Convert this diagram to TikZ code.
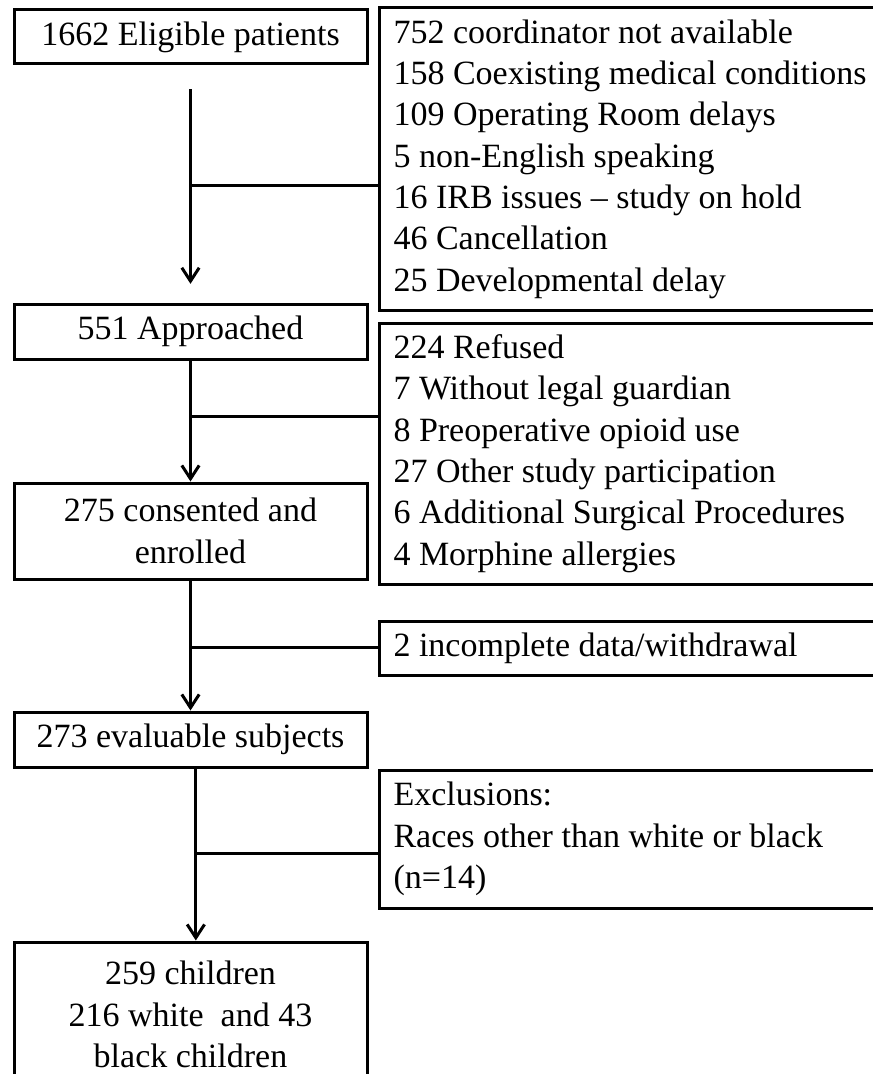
\documentclass[tikz,border=0pt]{standalone}
\usepackage{fontspec}
\setmainfont{Liberation Serif}
\usepackage{tikz}
\usetikzlibrary{arrows.meta}
\tikzstyle{flowChart} = [x = 0.75pt, y = -0.75pt]
\tikzstyle{mainBoxStyle} = [draw, line width = 2.25pt, minimum width = 264.75pt, inner sep = 0pt, align = center, font = \boxFont]
\tikzstyle{sideBoxStyle} = [draw, line width = 2.25pt, minimum width = 399pt, inner xsep = 10.5pt, inner ysep = 0pt, text width = 378pt, align = flush left, anchor = west, font = \boxFont]
\tikzstyle{flowLine} = [line width = 2.25pt]
\tikzstyle{flowArrow} = [flowLine, -{Straight Barb[length = 10pt, width = 13pt]}]
\newcommand{\boxFont}{\fontsize{25.5}{31}\selectfont}
\newcommand{\mainBox}[4]{\node [mainBoxStyle, minimum height = #3] (#1) at #2 {#4};}
\newcommand{\sideBox}[4]{\node [sideBoxStyle, minimum height = #3] (#1) at #2 {#4};}
\newcommand{\sideBranch}[2]{\draw [flowLine] (#1) -- (#2.west |- #1);}

\begin{document}
\begin{tikzpicture}[flowChart]
          \useasboundingbox (0,0) rectangle (873,1074);
          \clip (0,0) rectangle (873,1074);

          \mainBox{eligible}{(190.5,37)}{40.5pt}{1662 Eligible patients}
          \mainBox{approached}{(190.5,331.5)}{41.25pt}{551 Approached}
          \mainBox{consented}{(190.5,531)}{72pt}{275 consented and\\enrolled}
          \mainBox{evaluable}{(190.5,739.5)}{41.25pt}{273 evaluable subjects}
          \mainBox{children}{(190.5,1014.5)}{108.75pt}{259 children\\216 white~ and 43\\black children}

          \sideBox{notEnrolled}{(378,159)}{226.5pt}{752 coordinator not available\\158 Coexisting medical conditions\\109 Operating Room delays\\5 non-English speaking\\16 IRB issues – study on hold\\46 Cancellation\\25 Developmental delay}
          \sideBox{notConsented}{(378,453.5)}{195.75pt}{224 Refused\\7 Without legal guardian\\8 Preoperative opioid use\\27 Other study participation\\6 Additional Surgical Procedures\\4 Morphine allergies}
          \sideBox{withdrawn}{(378,648)}{40.5pt}{2 incomplete data/withdrawal}
          \sideBox{excluded}{(378,839)}{103.5pt}{Exclusions:\\Races other than white or black\\(n=14)}

          \draw [flowArrow, shorten < = 18pt, shorten > = 14pt] (eligible.south) -- (approached.north);
          \draw [flowArrow] (approached.south) -- (consented.north);
          \draw [flowArrow] (consented.south) -- (evaluable.north);
          \draw [flowArrow] ([xshift = 4pt]evaluable.south) -- ([xshift = 4pt]children.north);

          \coordinate (branchOne) at (190.5,185);
          \coordinate (branchTwo) at (190.5,416);
          \coordinate (branchThree) at (190.5,647);
          \coordinate (branchFour) at (196,853);
          \sideBranch{branchOne}{notEnrolled}
          \sideBranch{branchTwo}{notConsented}
          \sideBranch{branchThree}{withdrawn}
          \sideBranch{branchFour}{excluded}
        \end{tikzpicture}
\end{document}
